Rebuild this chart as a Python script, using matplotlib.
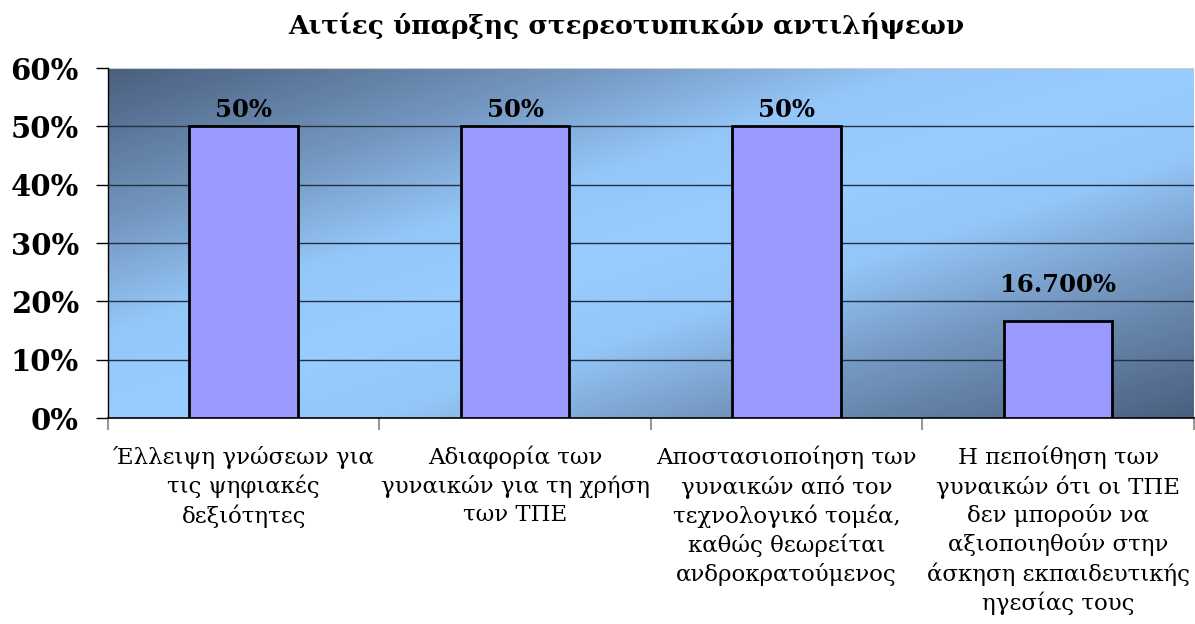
import numpy as np
import matplotlib.pyplot as plt
from matplotlib.colors import LinearSegmentedColormap

TITLE = "Αιτίες ύπαρξης στερεοτυπικών αντιλήψεων"
CATEGORIES = [
    "Έλλειψη γνώσεων για\nτις ψηφιακές\nδεξιότητες",
    "Αδιαφορία των\nγυναικών για τη χρήση\nτων ΤΠΕ",
    "Αποστασιοποίηση των\nγυναικών από τον\nτεχνολογικό τομέα,\nκαθώς θεωρείται\nανδροκρατούμενος",
    "Η πεποίθηση των\nγυναικών ότι οι ΤΠΕ\nδεν μπορούν να\nαξιοποιηθούν στην\nάσκηση εκπαιδευτικής\nηγεσίας τους",
]
VALUES = [0.50, 0.50, 0.50, 0.167]
BAR_LABELS = ["50%", "50%", "50%", "16.700%"]
Y_TICKS = [0.0, 0.1, 0.2, 0.3, 0.4, 0.5, 0.6]

SERIF = ["DejaVu Serif"]

fig = plt.figure(figsize=(11.95, 6.24), dpi=100)
ax = fig.add_axes([0.0904, 0.330, 0.9086, 0.561])

# diagonal background gradient: dark corners top-left / bottom-right
nx, ny = 500, 250
xs, ys = np.meshgrid(np.linspace(0, 1, nx), np.linspace(1, 0, ny))
d = np.abs(ys - xs)
cmap = LinearSegmentedColormap.from_list(
    "bg", [(0.0, "#99ccff"), (0.25, "#94c6f8"), (0.55, "#7497c0"), (1.0, "#4a5f7e")])
ax.imshow(d, cmap=cmap, extent=[0, 1, 0, 1], transform=ax.transAxes,
          aspect="auto", zorder=0, vmin=0, vmax=1, interpolation="bilinear")

x = np.arange(len(VALUES))
bars = ax.bar(x, VALUES, width=0.4, color="#9999ff", edgecolor="black",
              linewidth=2, zorder=3)
for i, (rect, lab) in enumerate(zip(bars, BAR_LABELS)):
    offset = 3 if VALUES[i] >= 0.3 else 17
    ax.annotate(lab, (rect.get_x() + rect.get_width() / 2, rect.get_height()),
                xytext=(0, offset), textcoords="offset points",
                ha="center", va="bottom", fontsize=17.5, fontweight="bold",
                family=SERIF, zorder=4)

ax.set_xlim(-0.5, len(VALUES) - 0.5)
ax.set_ylim(0, 0.6)
ax.set_yticks(Y_TICKS)
ax.set_yticklabels([f"{int(round(v * 100))}%" for v in Y_TICKS],
                   fontsize=21, fontweight="bold", family=SERIF)
for v in Y_TICKS[1:-1]:
    ax.axhline(v, color="#22303f", linewidth=1, zorder=1)
ax.axhline(0.6, color="#cccccc", linewidth=1.5, zorder=1)

ax.set_xticks(x)
ax.set_xticklabels(CATEGORIES, fontsize=16.5, family=SERIF, linespacing=1.32)
ax.tick_params(axis="x", length=0, pad=20)
for b in np.arange(-0.5, len(VALUES), 1.0):
    ax.plot([b, b], [0, -0.018], color="#999999", linewidth=1.5,
            clip_on=False, zorder=2)
ax.tick_params(axis="y", length=9, width=1, pad=12)

for side in ["top", "right"]:
    ax.spines[side].set_visible(False)
ax.spines["left"].set_linewidth(1)
ax.spines["bottom"].set_linewidth(1.2)

fig.text(0.524, 0.958, TITLE, ha="center", va="center", fontsize=19,
         fontweight="bold", family=SERIF)

fig.savefig("out.png", dpi=100)
